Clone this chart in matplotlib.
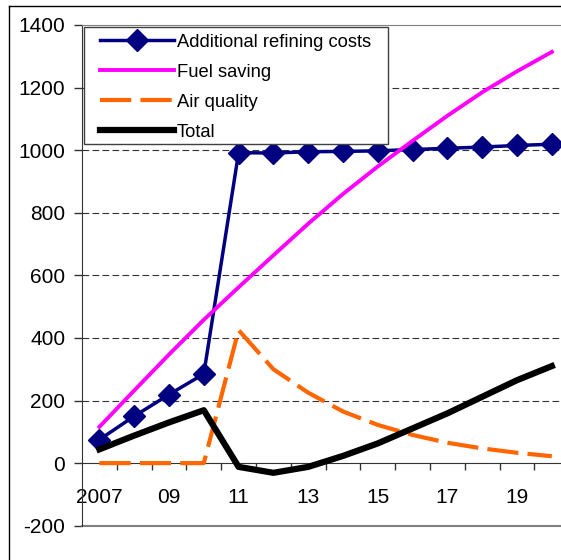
import numpy as np
import matplotlib
matplotlib.use('Agg')
import matplotlib.pyplot as plt
from matplotlib.lines import Line2D
from matplotlib.patches import Rectangle

plt.rcParams['font.family'] = ['Liberation Sans', 'DejaVu Sans']

years = list(range(2007, 2021))
year_labels = ['2007', '09', '11', '13', '15', '17', '19']
refining_costs = [75, 150, 219, 285, 992, 991, 995, 996, 998, 1002, 1006, 1010, 1015, 1019]
fuel_saving = [116, 232, 347, 458, 562, 664, 765, 860, 948, 1030, 1110, 1185, 1252, 1314]
air_quality = [0, 0, 0, 0, 425, 300, 225, 165, 122, 90, 65, 47, 33, 22]
total = [44, 88, 130, 169, -12, -31, -12, 23, 63, 111, 159, 212, 265, 310]
y_ticks = [-200, 0, 200, 400, 600, 800, 1000, 1200, 1400]

W, H = 561, 560
fig = plt.figure(figsize=(W / 100, H / 100), dpi=100)

# plot area runs past the right edge of the canvas
left, right, top, bottom = 82, 82 + 14 * 34.8, 25, 525.7
ax = fig.add_axes([left / W, 1 - bottom / H, (right - left) / W, (bottom - top) / H])

x = np.arange(len(years))
ax.set_xlim(-0.5, len(years) - 0.5)
ax.set_ylim(-200, 1400)

for v in [200, 400, 600, 800, 1000, 1200]:
    ax.axhline(v, color='#333333', lw=0.8, dashes=(6, 3), zorder=1)

ax.plot(x, refining_costs, color='#000080', lw=2.5, marker='D', markersize=11,
        label='Additional refining costs', zorder=3)
ax.plot(x, fuel_saving, color='#FF00FF', lw=2.8, label='Fuel saving', zorder=3)
ax.plot(x, air_quality, color='#FF6600', lw=3, dashes=(7.5, 2.2), label='Air quality', zorder=3)
ax.plot(x, total, color='black', lw=4.5, label='Total', zorder=3)

# axes frame: value axis black, plot area border gray
ax.spines['right'].set_visible(False)
ax.spines['top'].set_color('#808080')
ax.spines['left'].set_color('#333333')
ax.spines['bottom'].set_position(('data', 0))
ax.spines['bottom'].set_color('#333333')
ax.plot([0, 1], [0, 0], transform=ax.transAxes, color='#808080', lw=1.5, clip_on=False)

ax.set_yticks(y_ticks)
ax.set_yticklabels([str(v) for v in y_ticks])
ax.tick_params(axis='y', direction='out', length=6, width=1, color='#333333', labelsize=15, pad=6)

ax.set_xticks(np.arange(0.5, len(years) - 0.5, 1.0))
ax.set_xticklabels([])
ax.tick_params(axis='x', which='major', direction='out', length=5, width=1, color='#333333')
ax.set_xticks(x[::2], minor=True)
ax.set_xticklabels(year_labels, minor=True)
ax.tick_params(axis='x', which='minor', length=0, labelsize=15, pad=18)

# legend box drawn separately to get the wider left padding
box = Rectangle((84 / W, 1 - 144 / H), (387.7 - 84) / W, (144 - 26.7) / H,
                transform=fig.transFigure, facecolor='white', edgecolor='#404040',
                lw=1, zorder=4)
fig.add_artist(box)
leg = ax.legend(loc='upper left', bbox_to_anchor=(96.3 / W, 1 - 30 / H),
                bbox_transform=fig.transFigure, frameon=False, fontsize=13.2,
                handlelength=4.04, handletextpad=0.16, labelspacing=0.71,
                borderpad=0.2, borderaxespad=0, numpoints=1)
leg.set_zorder(5)
fig.add_artist(leg)

# outer chart border
fig.add_artist(Line2D([8.5 / W, 8.5 / W], [0, 1 - 6 / H], color='black', lw=1))
fig.add_artist(Line2D([8.5 / W, 1], [1 - 6 / H, 1 - 6 / H], color='black', lw=1))

fig.savefig('out.png', dpi=100)
